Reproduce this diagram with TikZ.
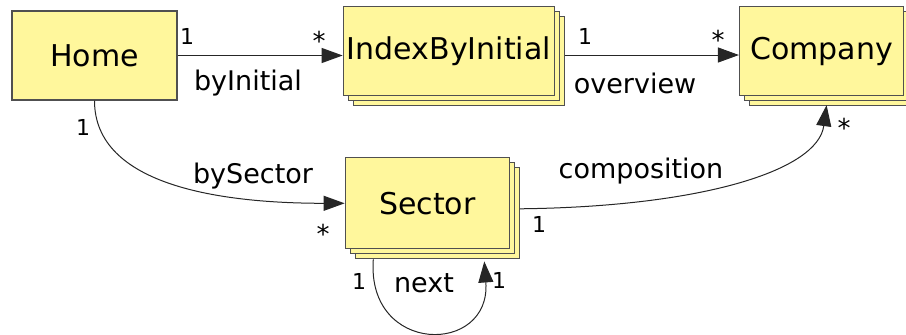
\documentclass[tikz,border=0pt]{standalone}
\usepackage{fontspec}
\setmainfont{DejaVu Sans}
\usepackage{xcolor}
\usetikzlibrary{arrows.meta,positioning,shadows}
\definecolor{boxfill}{RGB}{255,247,156}
\definecolor{boxline}{RGB}{80,80,80}
\newcommand{\many}{{\fontsize{26}{26}\selectfont *}}

\begin{document}
\begin{tikzpicture}[
  x=1pt, y=-1pt,
  node distance=165pt,
  cls/.style={draw=boxline, line width=1.3pt, fill=boxfill, inner sep=0pt,
    minimum height=89pt, font=\fontsize{30}{36}\selectfont},
  stack/.style={cls,
    copy shadow={shadow xshift=10pt, shadow yshift=-10pt, fill=boxfill, draw=boxline, line width=1.3pt},
    copy shadow={shadow xshift=5pt, shadow yshift=-5pt, fill=boxfill, draw=boxline, line width=1.3pt}},
  role/.style={font=\fontsize{27}{32}\selectfont, inner sep=0pt},
  mult/.style={font=\fontsize{22}{26}\selectfont, inner sep=0pt},
  assoc/.style={-{Triangle[length=21pt,width=15pt]}, line width=1pt, draw=black!85}
]
\useasboundingbox (0,0) rectangle (906,335);

% classes
\node[cls, minimum width=165pt] (home) at (94.5,55.5) {Home};
\node[stack, minimum width=211pt, right=165pt of home, yshift=4.5pt] (index) {IndexByInitial};
\node[stack, minimum width=164pt, right=184pt of index] (company) {Company};
\node[stack, minimum width=164pt, minimum height=91pt, below=61pt of index, xshift=-21.5pt] (sector) {Sector};

% associations
\draw[assoc] (home.east) -- (home.east -| index.west);
\draw[assoc] ([xshift=10pt,yshift=-4pt]index.east) -- ([yshift=-4pt]index.east -| company.west);
\draw[assoc] (home.south) .. controls ([yshift=-85pt]home.south) and ([xshift=-124pt]sector.west) .. (sector.west);
\draw[assoc] ([xshift=10pt,yshift=-5.5pt]sector.east) .. controls +(180,-2) and +(-9,66) .. ([xshift=5pt,yshift=-9pt]company.south);
\draw[assoc] ([xshift=-54pt,yshift=-10pt]sector.south) .. controls +(-7,96) and +(7,94) .. ([xshift=57pt,yshift=-12pt]sector.south);

% role names
\node[role] (byinitial) at (248,83) {byInitial};
\node[role] (overview) at (635,83) {overview};
\node[role] (bysector) at (253,176) {bySector};
\node[role] (composition) at (641,171) {composition};
\node[role] (next) at (424,283) {next};

% multiplicities
\node[mult] (m1) at (187,36) {1};
\node[mult] (m2) at (319,41) {\many};
\node[mult] (m3) at (585,36) {1};
\node[mult] (m4) at (718,40) {\many};
\node[mult] (m5) at (83,127) {1};
\node[mult] (m6) at (323,234) {\many};
\node[mult] (m7) at (539,224) {1};
\node[mult] (m8) at (844,128) {\many};
\node[mult] (m9) at (359,281) {1};
\node[mult] (m10) at (499,280) {1};
\end{tikzpicture}
\end{document}
